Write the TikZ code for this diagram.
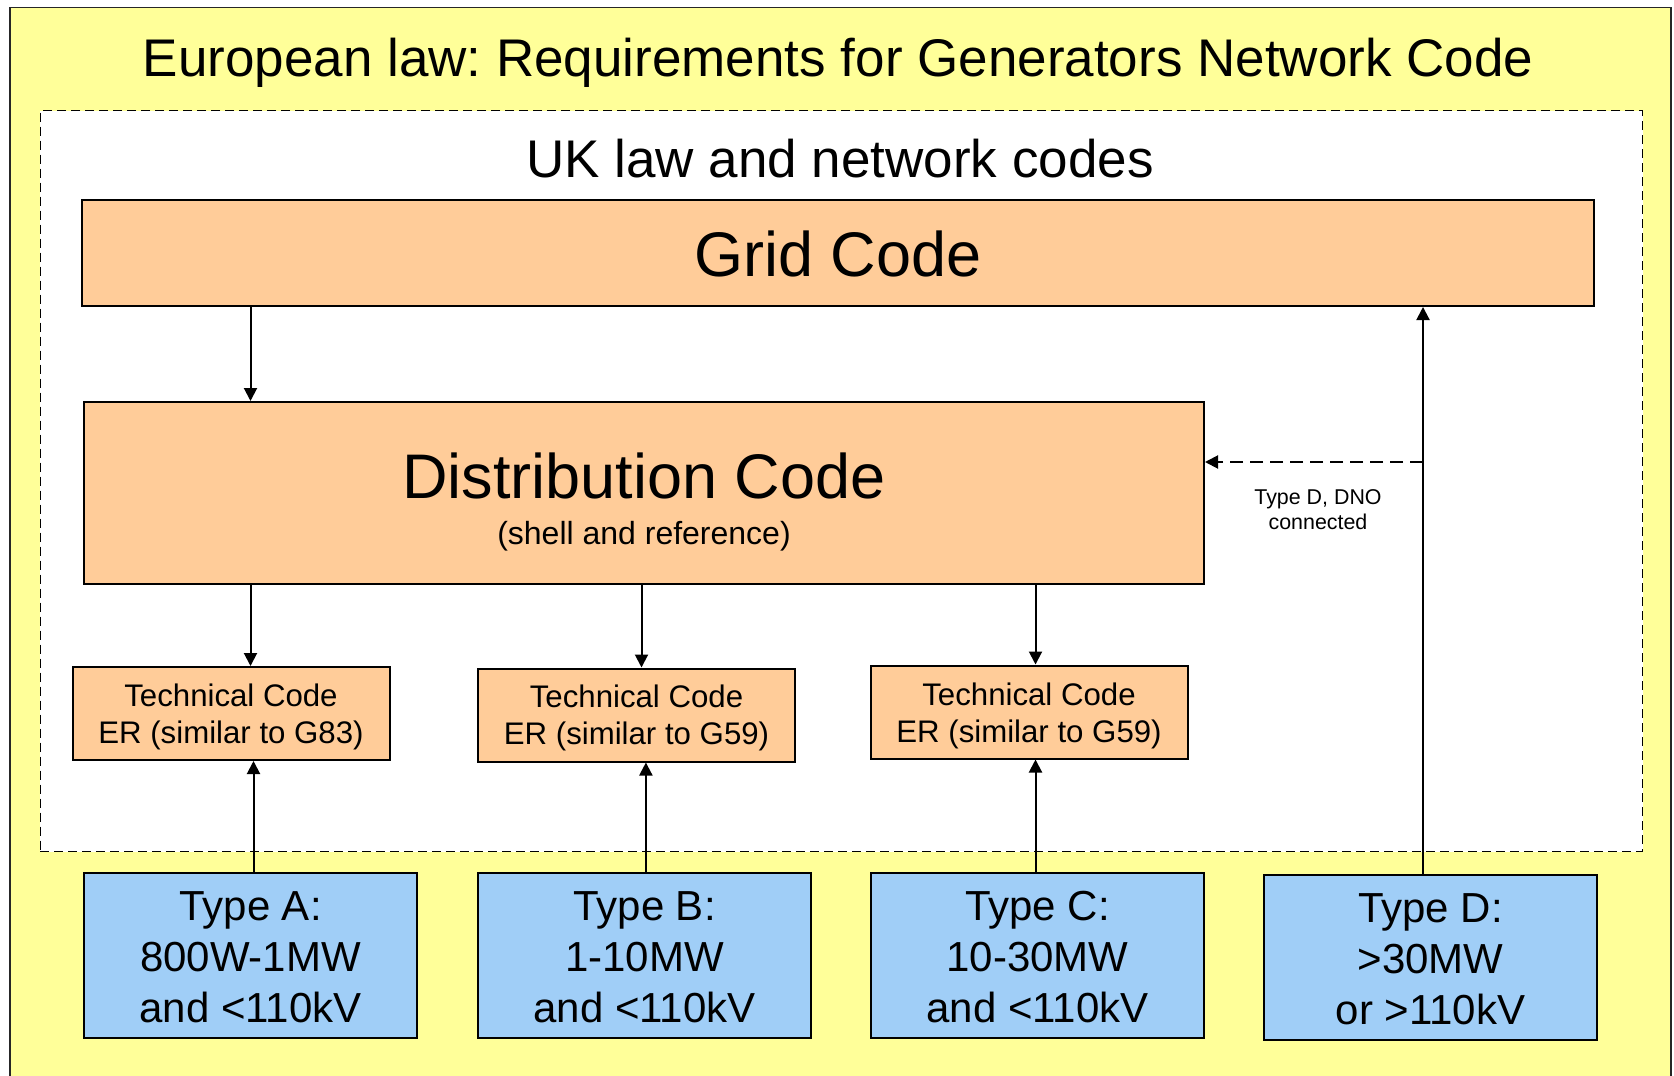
\documentclass[tikz,border=0pt]{standalone}
\usepackage{fontspec}
\setmainfont{Liberation Sans}
\usetikzlibrary{arrows.meta}
\definecolor{bgyellow}{RGB}{255,255,153}
\definecolor{boxorange}{RGB}{255,204,153}
\definecolor{boxblue}{RGB}{160,206,247}
\tikzset{
  obox/.style={draw=black, line width=1pt, fill=boxorange, inner sep=0pt},
  tcbox/.style={obox, minimum width=158.5pt, minimum height=46.5pt},
  tctext/.style={anchor=base, inner sep=0pt, font=\fontsize{15.6}{18}\selectfont},
  bbox/.style={draw=black, line width=1pt, fill=boxblue, inner sep=0pt,
    minimum width=166.5pt, minimum height=82.5pt},
  btext/.style={anchor=base, inner sep=0pt, font=\fontsize{21}{25}\selectfont},
  arr/.style={line width=1pt, -{Triangle[length=6.5pt,width=6.5pt]}},
  darr/.style={arr, dash pattern=on 6.5pt off 3.5pt},
  bigtitle/.style={anchor=base, inner sep=0pt, font=\fontsize{26.5}{30}\selectfont},
}
\begin{document}
\frenchspacing
\begin{tikzpicture}[x=0.5pt,y=-0.5pt]
\useasboundingbox (0,0) rectangle (1674,1075);
\fill[white] (0,0) rectangle (1674,1075);
% European container
\node[draw=black!85, line width=0.75pt, fill=bgyellow, inner sep=0pt, anchor=north west,
      minimum width=830.5pt, minimum height=539pt] (eu) at (9,7) {};
\node[bigtitle] (eutitle) at (838,77) {European law: Requirements for Generators Network Code};
% UK container
\node[draw=black, line width=0.7pt, dash pattern=on 4.5pt off 2.5pt, fill=white, inner sep=0pt,
      anchor=north west, minimum width=801.25pt, minimum height=370.5pt] (uk) at (39.5,110) {};
\node[bigtitle] (uktitle) at (840,178) {UK law and network codes};
% Grid code
\node[obox, minimum width=756pt, minimum height=53pt] (grid) at (838,253) {};
\node[anchor=base, inner sep=0pt, font=\fontsize{31.5}{36}\selectfont] (gridt) at (838,277) {Grid Code};
% Distribution code
\node[obox, minimum width=560pt, minimum height=91pt] (dist) at (644,493) {};
\node[anchor=base, inner sep=0pt, font=\fontsize{31.5}{36}\selectfont] (distt) at (644,498) {Distribution Code};
\node[anchor=base, inner sep=0pt, font=\fontsize{16}{19}\selectfont] (dists) at (644,544) {(shell and reference)};
% Technical codes
\node[tcbox] (tc1) at (231,713.5) {};
\node[tctext] (tc1a) at (231,706) {Technical Code};
\node[tctext] (tc1b) at (231,743) {ER (similar to G83)};
\node[tcbox] (tc2) at (636.5,715) {};
\node[tctext] (tc2a) at (636.5,707) {Technical Code};
\node[tctext] (tc2b) at (636.5,744) {ER (similar to G59)};
\node[tcbox] (tc3) at (1029,712) {};
\node[tctext] (tc3a) at (1029,705) {Technical Code};
\node[tctext] (tc3b) at (1029,742) {ER (similar to G59)};
% Types
\node[bbox] (ta) at (250.5,955.5) {};
\node[btext] (ta1) at (250.5,920.7) {Type A:};
\node[btext] (ta2) at (250.5,971.5) {800W-1MW};
\node[btext] (ta3) at (250.5,1022.3) {and <110kV};
\node[bbox] (tb) at (644.5,955.5) {};
\node[btext] (tb1) at (644.5,920.7) {Type B:};
\node[btext] (tb2) at (644.5,971.5) {1-10MW};
\node[btext] (tb3) at (644.5,1022.3) {and <110kV};
\node[bbox] (tcc) at (1037.5,955.5) {};
\node[btext] (tcc1) at (1037.5,920.7) {Type C:};
\node[btext] (tcc2) at (1037.5,971.5) {10-30MW};
\node[btext] (tcc3) at (1037.5,1022.3) {and <110kV};
\node[bbox] (td) at (1430.5,957.5) {};
\node[btext] (td1) at (1430.5,922.7) {Type D:};
\node[btext] (td2) at (1430.5,973.5) {>30MW};
\node[btext] (td3) at (1430.5,1024.3) {or >110kV};
% connectors
\coordinate (dj) at (1423,462);
\draw[arr] (grid.south -| ta.north) -- (dist.north -| ta.north);
\draw[arr] (dist.south -| ta.north) -- (tc1.north -| ta.north);
\draw[arr] ([xshift=-1.5pt]dist.south -| tb.north) -- ([xshift=-1.5pt]tc2.north -| tb.north);
\draw[arr] ([xshift=-1pt]dist.south -| tcc.north) -- ([xshift=-1pt]tc3.north -| tcc.north);
\draw[arr] ([xshift=1.5pt]ta.north) -- ([xshift=1.5pt]tc1.south -| ta.north);
\draw[arr] ([xshift=0.7pt]tb.north) -- ([xshift=0.7pt]tc2.south -| tb.north);
\draw[arr] ([xshift=-1pt]tcc.north) -- ([xshift=-1pt]tc3.south -| tcc.north);
\draw[arr] (td.north -| dj) -- (grid.south -| dj);
\draw[darr] (dj) -- (dist.east |- dj);
\node[align=center, inner sep=0pt, font=\fontsize{10.7}{12.5}\selectfont] (dlabel) at (1318,510) {Type D, DNO\\connected};
\end{tikzpicture}
\end{document}
